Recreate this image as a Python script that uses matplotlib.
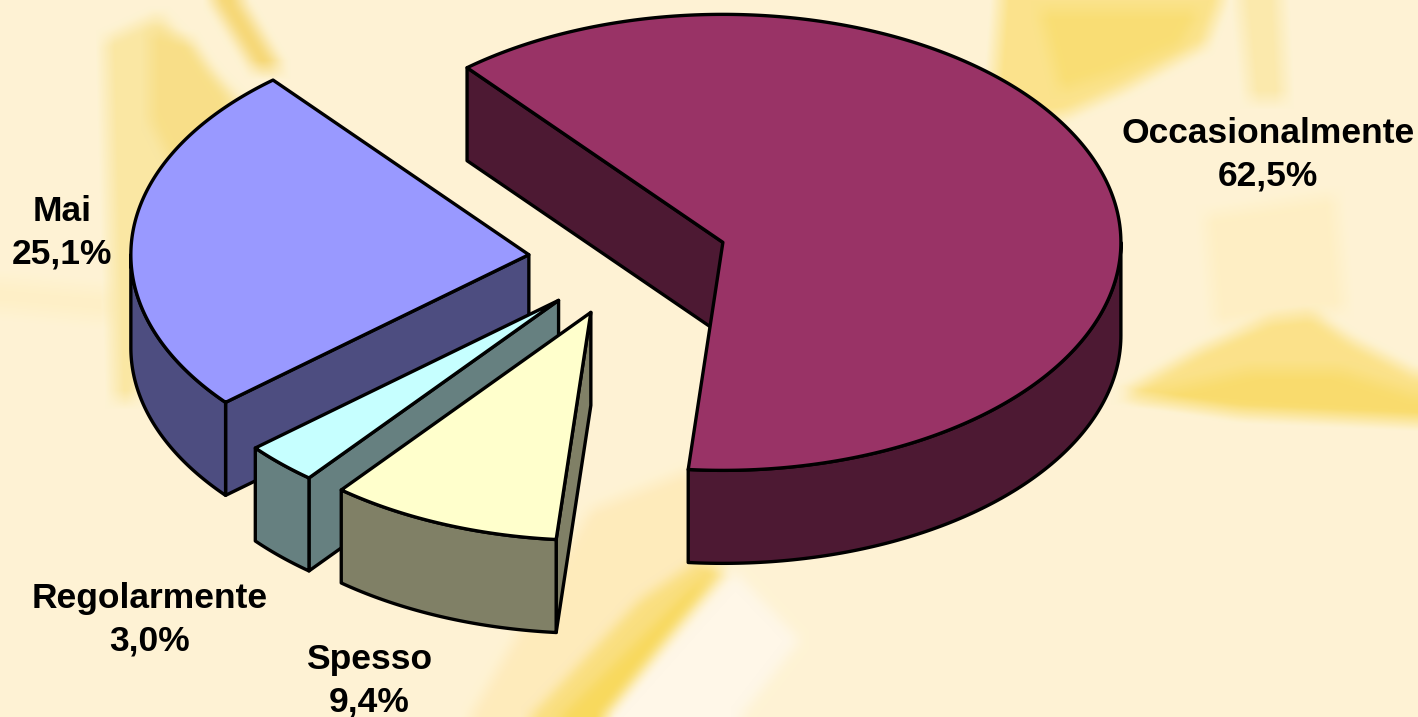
import numpy as np
import matplotlib
matplotlib.use("Agg")
import matplotlib.pyplot as plt
from matplotlib.backends.backend_agg import FigureCanvasAgg
from matplotlib.figure import Figure
from matplotlib.patches import Polygon

# Quote per frequenza, in senso antiorario: l'ordine e' anche quello di disegno
categorie = ["Mai", "Regolarmente", "Spesso", "Occasionalmente"]
valori = [25.1, 3.0, 9.4, 62.5]
colori_sopra = ["#9999FF", "#C6FFFF", "#FFFFCC", "#993366"]
colori_lato = ["#4D4D80", "#668080", "#808066", "#4D1933"]
pos_etichette = [(62, 233), (150, 620), (369, 681), (1268, 155)]

W, H = 1418, 717
CENTRO = (628, 259.5)
RX, RY = 398, 228
SPESSORE = 93
ESPLOSO = 0.25
ANGOLO_INIZIO = 130


def punto(c, t):
    t = np.radians(t)
    return np.column_stack([c[0] + RX * np.cos(t), c[1] - RY * np.sin(t)])


def sfondo():
    # Immagine di fondo: macchie gialle sfumate su crema
    fig_bg = Figure(figsize=(W / 100, H / 100), dpi=100)
    canvas = FigureCanvasAgg(fig_bg)
    ax_bg = fig_bg.add_axes([0, 0, 1, 1])
    ax_bg.set_xlim(0, W)
    ax_bg.set_ylim(H, 0)
    ax_bg.axis("off")
    fig_bg.patch.set_facecolor("#FEF3D4")
    macchie = [
        ([(1000, 0), (1222, 0), (1205, 45), (1125, 88), (1065, 115), (990, 125)], "#FBE38C"),
        ([(1040, 10), (1200, 10), (1180, 45), (1110, 75), (1060, 90)], "#F9DE74"),
        ([(1240, 0), (1280, 0), (1285, 100), (1250, 100)], "#FBE9AC"),
        ([(1120, 395), (1200, 350), (1300, 305), (1350, 340), (1418, 375), (1418, 422), (1240, 414)], "#FBE28A"),
        ([(1130, 398), (1250, 370), (1340, 370), (1418, 395), (1418, 420), (1240, 410)], "#F9DC6E"),
        ([(1205, 215), (1335, 195), (1345, 310), (1215, 325)], "#FEEFC4"),
        ([(105, 40), (160, 15), (215, 75), (250, 110), (230, 150), (190, 190), (135, 400), (115, 400)], "#FAE7A4"),
        ([(150, 30), (190, 40), (230, 100), (220, 150), (180, 180), (150, 120)], "#F8DF88"),
        ([(212, 0), (240, 0), (282, 70), (255, 70)], "#F6D878"),
        ([(0, 280), (110, 290), (110, 320), (0, 310)], "#FEF0C8"),
        ([(470, 717), (590, 510), (690, 470), (700, 570), (560, 717)], "#FEEBBC"),
        ([(530, 717), (640, 600), (700, 560), (725, 570), (600, 717)], "#FADF80"),
        ([(560, 717), (690, 590), (722, 570), (604, 717)], "#F8D95E"),
        ([(606, 717), (735, 572), (800, 640), (740, 717)], "#FFF7E8"),
    ]
    for pts, col in macchie:
        ax_bg.add_patch(Polygon(pts, closed=True, facecolor=col, edgecolor="none"))
    canvas.draw()
    img = np.asarray(canvas.buffer_rgba())[:, :, :3].astype(float)
    lato_k = 19
    kernel = np.ones(lato_k) / lato_k
    for asse in (0, 1):
        img = np.apply_along_axis(
            lambda v: np.convolve(np.pad(v, lato_k // 2, mode="edge"), kernel, "valid"), asse, img)
    return img.astype(np.uint8)


fig = plt.figure(figsize=(W / 100, H / 100), dpi=100)
ax = fig.add_axes([0, 0, 1, 1])
ax.imshow(sfondo(), extent=(0, W, H, 0), aspect="auto", zorder=0)
ax.set_xlim(0, W)
ax.set_ylim(H, 0)
ax.axis("off")

stile = dict(edgecolor="black", linewidth=2.4, joinstyle="round", closed=True)
giu = np.array([0, SPESSORE])

inizio = ANGOLO_INIZIO
for nome, val, sopra, lato, pos in zip(categorie, valori, colori_sopra, colori_lato, pos_etichette):
    t0 = inizio
    t1 = t0 + val * 3.6
    inizio = t1
    medio = np.radians((t0 + t1) / 2)
    c = (CENTRO[0] + ESPLOSO * RX * np.cos(medio), CENTRO[1] - ESPLOSO * RY * np.sin(medio))
    apice = np.array(c)

    # Facce radiali visibili
    for t, visibile in ((t1, np.cos(np.radians(t1)) < 0), (t0, np.cos(np.radians(t0)) > 0)):
        if visibile:
            p = punto(c, t)[0]
            ax.add_patch(Polygon([apice, p, p + giu, apice + giu], facecolor=lato, **stile))

    # Bordo esterno, solo la parte sotto l'ellisse
    lo, hi = max(t0, 180), min(t1, 360)
    if hi > lo:
        bordo = punto(c, np.linspace(lo, hi, 120))
        ax.add_patch(Polygon(np.vstack([bordo, (bordo + giu)[::-1]]), facecolor=lato, **stile))

    # Faccia superiore
    arco = punto(c, np.linspace(t0, t1, 300))
    ax.add_patch(Polygon(np.vstack([apice, arco]), facecolor=sopra, **stile))

    testo = f"{nome}\n{val:.1f}%".replace(".", ",")
    ax.text(pos[0], pos[1], testo, ha="center", va="center", fontsize=25.5, fontweight="bold",
            family="Liberation Sans", color="black", linespacing=1.35, zorder=10)

fig.savefig("out.png", dpi=100)
